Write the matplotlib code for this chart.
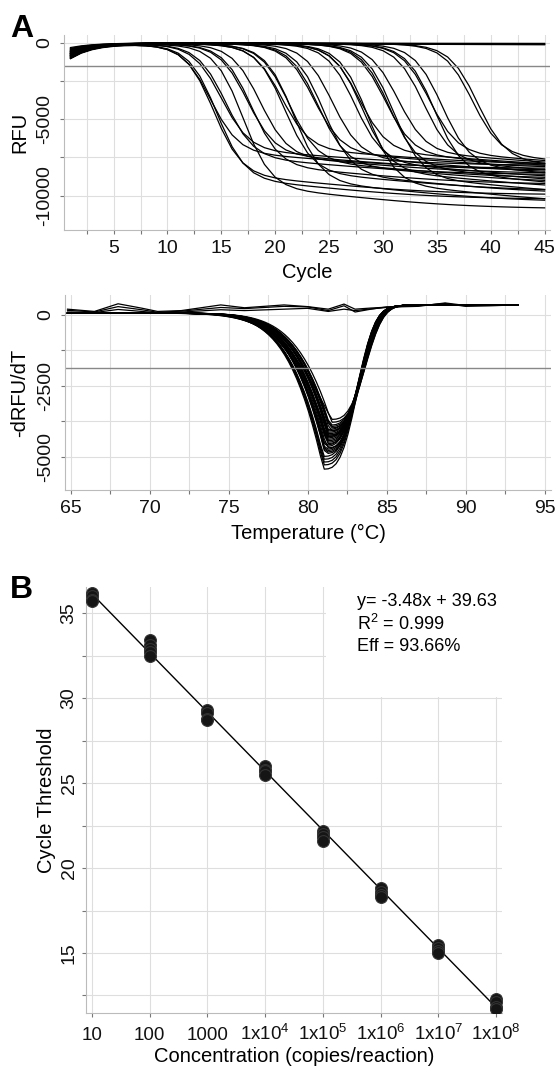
import numpy as np
import matplotlib
matplotlib.use('Agg')
import matplotlib.pyplot as plt
from matplotlib.patches import Rectangle

plt.rcParams['font.family'] = ['Liberation Sans', 'DejaVu Sans']
plt.rcParams['mathtext.fontset'] = 'custom'
plt.rcParams['mathtext.rm'] = 'Liberation Sans'
plt.rcParams['mathtext.it'] = 'Liberation Sans:italic'
plt.rcParams['axes.unicode_minus'] = False

#amplification traces: cycle at half signal, RFU at cycle 1 and at cycle 45
amp_mid = [14.0, 14.3, 14.6, 15.0, 15.4,
           17.0, 17.4, 17.8, 18.6,
           20.6, 20.9, 21.3, 21.7,
           23.6, 24.0, 24.5, 25.3,
           27.4, 27.8, 28.1, 28.6,
           30.2, 30.6, 31.0, 31.4,
           33.8, 34.3, 34.8, 35.5,
           38.3, 38.8]
amp_end = [-8200, -9900, -10200, -8000, -8600,
           -10800, -8300, -9200, -8500,
           -7900, -9600, -8800, -10300,
           -8100, -9000, -9700, -8400,
           -8700, -7900, -9300, -10200,
           -8000, -8900, -9600, -7800,
           -8300, -7700, -9100, -8500,
           -7600, -7900]
amp_start = [-900, -700, -1000, -500, -800,
             -600, -950, -400, -750,
             -850, -550, -700, -1000,
             -450, -900, -650, -800,
             -350, -700, -950, -600,
             -800, -500, -900, -700,
             -650, -1000, -550, -850,
             -750, -300]
ntc_start = [-400, -700, -550, -850]
ntc_end = [-60, -120, -30, -90]
threshold_amp = -1500

#melt peaks
melt_tm = [81.0, 81.1, 81.2, 81.1, 81.3, 81.0, 81.2, 81.3, 81.4, 81.1, 81.2,
           81.0, 81.3, 81.2, 81.4, 81.1, 81.3, 81.0, 81.2, 81.5, 81.3, 81.1,
           81.4, 81.2, 81.3, 81.2, 81.0, 81.4, 81.1, 81.3, 81.5]
melt_depth = [-5100, -4600, -4300, -4900, -4100, -5300, -4450, -4200, -3900,
              -4750, -4350, -5000, -4150, -4500, -4000, -4800, -4250, -5200,
              -4400, -3800, -4050, -4650, -3950, -4550, -4300, -4700, -5450,
              -4100, -4850, -4250, -3700]
melt_left = [2.2] * 29 + [2.8, 3.3]
ntc_temp = [64.8, 66.5, 68, 69.5, 70.5, 72, 74.5, 76, 78.5, 80, 81.3, 82.3,
            83, 84, 85, 87, 88.7, 90, 91.5, 93.3]
ntc_melt = [[200, 120, 390, 235, 120, 150, 350, 250, 350, 290, 200, 380,
             200, 240, 270, 300, 420, 330, 340, 350],
            [160, 100, 290, 180, 90, 130, 260, 220, 300, 280, 150, 320,
             100, 200, 280, 320, 400, 300, 330, 340],
            [100, 80, 190, 120, 70, 100, 180, 150, 200, 230, 120, 200,
             150, 210, 260, 340, 380, 320, 320, 350]]
threshold_melt = -1860

#standard curve
conc = [10, 100, 1000, 1e4, 1e5, 1e6, 1e7, 1e8]
ct_reps = [[36.2, 36.0, 35.8, 35.7],
           [33.4, 33.1, 32.9, 32.7, 32.5],
           [29.3, 29.1, 28.8, 28.7],
           [26.0, 25.8, 25.7, 25.5],
           [22.2, 22.0, 21.8, 21.6],
           [18.8, 18.6, 18.4, 18.3],
           [15.5, 15.3, 15.1, 15.0],
           [12.3, 12.1, 11.8, 11.7]]
conc_labels = ['10', '100', '1000', r'1x10$^{4}$', r'1x10$^{5}$',
               r'1x10$^{6}$', r'1x10$^{7}$', r'1x10$^{8}$']
slope, intercept = -3.48, 39.63

W, H = 556, 1066
fig = plt.figure(figsize=(W / 100, H / 100), dpi=100)
GRID = '#dedede'
TICK_FS = 14
LABEL_FS = 14.5


def style(ax):
    for s in ['top', 'right']:
        ax.spines[s].set_visible(False)
    for s in ['left', 'bottom']:
        ax.spines[s].set_color('#bbbbbb')
    ax.set_axisbelow(True)
    ax.tick_params(which='both', length=3, width=0.8, color='#777777',
                   labelsize=TICK_FS, labelcolor='#111111')
    ax.tick_params(axis='y', pad=5)


#panel A - amplification
ax1 = fig.add_axes([64 / W, 1 - 230 / H, 486 / W, 195 / H])
style(ax1)
cyc = np.arange(1, 46)


def amp_shape(c, m):
    fast = 1 / (1 + np.exp(-(c - m) / 1.3))
    slow = 1 / (1 + np.exp(-(c - m - 10) / 6))
    return 0.85 * fast + 0.15 * slow


for m, e, s0 in zip(amp_mid, amp_end, amp_start):
    sh = amp_shape(cyc, m)
    y = s0 * np.exp(-(cyc - 1) / 2.2) + e * sh / sh[-1]
    ax1.plot(cyc, y, color='black', lw=0.9)
for s0, e in zip(ntc_start, ntc_end):
    y = s0 * np.exp(-(cyc - 1) / 2.2) + e * (cyc - 1) / 44
    ax1.plot(cyc, y, color='black', lw=0.9)
ax1.axhline(threshold_amp, color='#888888', lw=1)
ax1.set_xlim(0.4, 45.5)
ax1.set_ylim(-12250, 520)
ax1.set_xticks(range(5, 50, 5))
ax1.set_xticklabels([str(v) for v in range(5, 50, 5)], va='baseline')
ax1.set_xticks(np.arange(2.5, 45, 5), minor=True)
ax1.set_yticks([0, -5000, -10000])
ax1.set_yticklabels(['0', '-5000', '-10000'], rotation=90, va='center')
ax1.set_yticks([-2500, -7500], minor=True)
ax1.tick_params(axis='x', pad=13.5)
ax1.grid(which='both', color=GRID, lw=0.8)
ax1.set_xlabel('Cycle', fontsize=LABEL_FS)
ax1.xaxis.label.set_va('baseline')
ax1.xaxis.set_label_coords(0.5, -0.246)
ax1.set_ylabel('RFU', fontsize=LABEL_FS)
ax1.yaxis.set_label_coords(-0.072, 0.5)
fig.text(10 / W, 1 - 37 / H, 'A', fontsize=23, fontweight='bold', va='baseline')

#panel A - melt
ax2 = fig.add_axes([65 / W, 1 - 490 / H, 486 / W, 195 / H])
style(ax2)
temp = np.arange(64.8, 93.4, 0.25)
for tm, dp, wl in zip(melt_tm, melt_depth, melt_left):
    d = temp - tm
    left = np.exp(-np.clip(-d, 0, None) / wl - (np.clip(-d, 0, None) / 5.5) ** 2)
    right = np.exp(-(np.clip(d, 0, None) / 2.47) ** 3)
    shape = np.where(d < 0, left, right)
    base = 60 + 300 / (1 + np.exp(-(temp - 84.2) / 0.8))
    ax2.plot(temp, base + (dp - 60) * shape, color='black', lw=0.9)
for vals in ntc_melt:
    ax2.plot(ntc_temp, vals, color='black', lw=0.9)
ax2.axhline(threshold_melt, color='#888888', lw=1)
ax2.set_xlim(64.64, 95.4)
ax2.set_ylim(-6180, 700)
ax2.set_xticks(range(65, 100, 5))
ax2.set_xticklabels([str(v) for v in range(65, 100, 5)], va='baseline')
ax2.set_xticks(np.arange(67.5, 95, 5), minor=True)
ax2.set_yticks([0, -2500, -5000])
ax2.set_yticklabels(['0', '-2500', '-5000'], rotation=90, va='center')
ax2.set_yticks([-1250, -3750], minor=True)
ax2.tick_params(axis='x', pad=13.5)
ax2.grid(which='both', color=GRID, lw=0.8)
ax2.set_xlabel('Temperature (°C)', fontsize=LABEL_FS)
ax2.xaxis.label.set_va('baseline')
ax2.xaxis.set_label_coords(0.5, -0.251)
ax2.set_ylabel('-dRFU/dT', fontsize=LABEL_FS)
ax2.yaxis.set_label_coords(-0.074, 0.5)

#panel B - standard curve
ax3 = fig.add_axes([86 / W, 1 - 1013 / H, 416 / W, 426.3 / H])
style(ax3)
ax3.set_xscale('log')
ax3.set_xlim(10 ** 0.9, 10 ** 8.1)
ax3.set_ylim(11.47, 36.56)
ax3.add_patch(Rectangle((1.12e5, 30.08), 1e10, 20, facecolor='white',
                        edgecolor='none', zorder=1))
xs = np.array([conc[0], conc[-1]])
ax3.plot(xs, slope * np.log10(xs) + intercept, color='black', lw=1, zorder=2)
for c, reps in zip(conc, ct_reps):
    ax3.plot([c] * len(reps), reps, 'o', ms=8.5, mfc='#151515', mec='#333333',
             mew=0.8, zorder=3)
ax3.set_xticks(conc)
ax3.set_xticklabels(conc_labels, va='baseline')
ax3.xaxis.set_minor_locator(matplotlib.ticker.NullLocator())
ax3.set_yticks([15, 20, 25, 30, 35])
ax3.set_yticklabels(['15', '20', '25', '30', '35'], rotation=90, va='center')
ax3.set_yticks([12.5, 17.5, 22.5, 27.5, 32.5], minor=True)
ax3.tick_params(axis='x', pad=16.5, labelsize=13.5)
ax3.tick_params(axis='y', pad=3)
ax3.grid(axis='y', which='both', color=GRID, lw=0.8)
ax3.grid(axis='x', which='major', color=GRID, lw=0.8)
ax3.set_xlabel('Concentration (copies/reaction)', fontsize=LABEL_FS)
ax3.xaxis.label.set_va('baseline')
ax3.xaxis.set_label_coords(0.5, -0.1145)
ax3.set_ylabel('Cycle Threshold', fontsize=LABEL_FS)
ax3.yaxis.set_label_coords(-0.072, 0.5)
fig.text(10 / W, 1 - 598 / H, 'B', fontsize=23, fontweight='bold', va='baseline')
fig.text(357 / W, 1 - 624 / H, 'y= -3.48x + 39.63\nR$^2$ = 0.999\nEff = 93.66%',
         fontsize=13, va='center', ha='left', linespacing=1.25, zorder=4)

fig.savefig('out.png', dpi=100)
